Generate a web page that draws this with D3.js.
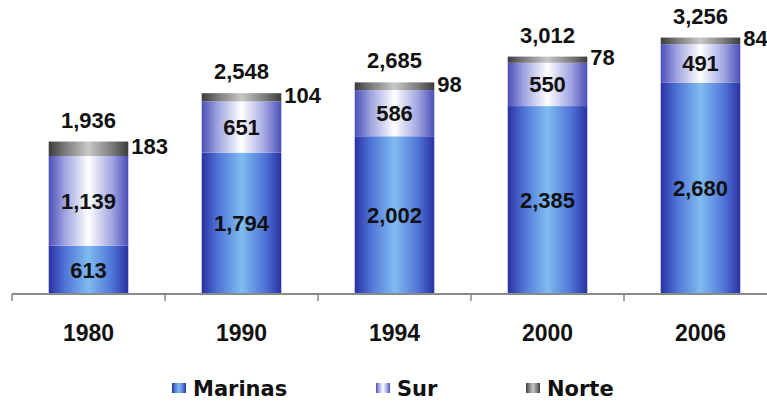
<!DOCTYPE html>
<html>
<head>
<meta charset="utf-8">
<script src="https://cdn.jsdelivr.net/npm/d3@7"></script>
<style>
  html, body { margin: 0; padding: 0; background: #fff; }
  svg { display: block; font-family: "Liberation Sans", Arial, sans-serif; }
</style>
</head>
<body>
<svg id="chart" width="767" height="403"></svg>
<script>
// ── Data ─────────────────────────────────────────────────────
const years   = ['1980', '1990', '1994', '2000', '2006'];
const marinas = [613, 1794, 2002, 2385, 2680];
const sur     = [1139, 651, 586, 550, 491];
const norte   = [183, 104, 98, 78, 84];
const totals  = [1936, 2548, 2685, 3012, 3256];

const seriesKeys   = ['marinas', 'sur', 'norte'];
const seriesLabels = { marinas: 'Marinas', sur: 'Sur', norte: 'Norte' };

// gradient stops: edge / mid / centre colours per series
const GRADS = {
  marinas: ['#2a31a2', '#4f73d6', '#7fbcf0'],
  sur:     ['#4a4fb8', '#9fa3e0', '#ffffff'],
  norte:   ['#3c3c3c', '#7a7a7a', '#c8c8c8'],
};

const rows = years.map((y, i) => ({ year: y, marinas: marinas[i], sur: sur[i], norte: norte[i], total: totals[i] }));

const svg = d3.select('#chart');
const fmt = d3.format(',');

// ── Scales ───────────────────────────────────────────────────
const x = d3.scaleBand()
  .domain(years)
  .range([12, 777])
  .paddingInner(0.48)
  .paddingOuter(0.24);

const y = d3.scaleLinear()
  .domain([0, 3300])
  .range([294, 34]);

// ── Gradients ────────────────────────────────────────────────
const defs = svg.append('defs');
seriesKeys.forEach(k => {
  const [edge, mid, centre] = GRADS[k];
  const g = defs.append('linearGradient')
    .attr('id', `grad-${k}`)
    .attr('x1', '0%').attr('x2', '100%').attr('y1', '0%').attr('y2', '0%');
  [[0, edge], [0.2, mid], [0.5, centre], [0.8, mid], [1, edge]].forEach(([o, c]) =>
    g.append('stop').attr('offset', o).attr('stop-color', c));
});

// ── Stacked bars ─────────────────────────────────────────────
const stacked = d3.stack().keys(seriesKeys)(rows);

const layers = svg.append('g').selectAll('g')
  .data(stacked)
  .join('g')
  .attr('fill', d => `url(#grad-${d.key})`);

layers.selectAll('rect')
  .data(d => d)
  .join('rect')
  .attr('x', d => x(d.data.year))
  .attr('y', d => y(d[1]))
  .attr('width', x.bandwidth())
  .attr('height', d => y(d[0]) - y(d[1]));

// ── Axis ─────────────────────────────────────────────────────
const step = x.step();
const axisG = svg.append('g');
axisG.append('line')
  .attr('x1', 12).attr('x2', 767)
  .attr('y1', y(0)).attr('y2', y(0))
  .attr('stroke', '#8a8a8a').attr('stroke-width', 2);

const tickXs = years.map(yr => x(yr) - step * x.paddingInner() / 2);
axisG.selectAll('line.tick')
  .data(tickXs)
  .join('line')
  .attr('class', 'tick')
  .attr('x1', d => d).attr('x2', d => d)
  .attr('y1', y(0)).attr('y2', y(0) + 7)
  .attr('stroke', '#8a8a8a').attr('stroke-width', 1.5);

axisG.selectAll('text.cat')
  .data(years)
  .join('text')
  .attr('class', 'cat')
  .attr('x', d => x(d) + x.bandwidth() / 2)
  .attr('y', 341)
  .attr('text-anchor', 'middle')
  .attr('font-size', 23)
  .attr('font-weight', 'bold')
  .attr('fill', '#111')
  .text(d => d);

// ── Value labels ─────────────────────────────────────────────
const labelG = svg.append('g')
  .attr('font-size', 22)
  .attr('font-weight', 'bold')
  .attr('fill', '#111');

// inside segments (marinas, sur)
stacked.filter(s => s.key !== 'norte').forEach(s => {
  labelG.selectAll(null)
    .data(s)
    .join('text')
    .attr('x', d => x(d.data.year) + x.bandwidth() / 2)
    .attr('y', d => (y(d[0]) + y(d[1])) / 2)
    .attr('dy', '0.36em')
    .attr('text-anchor', 'middle')
    .text(d => fmt(d[1] - d[0]));
});

// norte labels to the right of the bar
const norteLayer = stacked.find(s => s.key === 'norte');
labelG.selectAll(null)
  .data(norteLayer)
  .join('text')
  .attr('x', d => x(d.data.year) + x.bandwidth() + 3)
  .attr('y', d => (y(d[0]) + y(d[1])) / 2)
  .attr('dy', '0.24em')
  .text(d => fmt(d[1] - d[0]));

// totals above the bars
labelG.selectAll(null)
  .data(rows)
  .join('text')
  .attr('x', d => x(d.year) + x.bandwidth() / 2)
  .attr('y', d => y(d.marinas + d.sur + d.norte) - 14)
  .attr('text-anchor', 'middle')
  .text(d => fmt(d.total));

// ── Legend ───────────────────────────────────────────────────
const legendX = { marinas: 172, sur: 376, norte: 526 };
const legendG = svg.append('g');
seriesKeys.forEach(k => {
  const lg = legendG.append('g').attr('transform', `translate(${legendX[k]}, 396)`);
  lg.append('rect')
    .attr('x', 0).attr('y', -13)
    .attr('width', 14).attr('height', 10)
    .attr('fill', `url(#grad-${k})`);
  lg.append('text')
    .attr('x', 21)
    .attr('y', 0)
    .attr('font-family', '"DejaVu Sans", sans-serif')
    .attr('font-size', 21)
    .attr('font-weight', 'bold')
    .attr('fill', '#111')
    .text(seriesLabels[k]);
});
</script>
</body>
</html>
